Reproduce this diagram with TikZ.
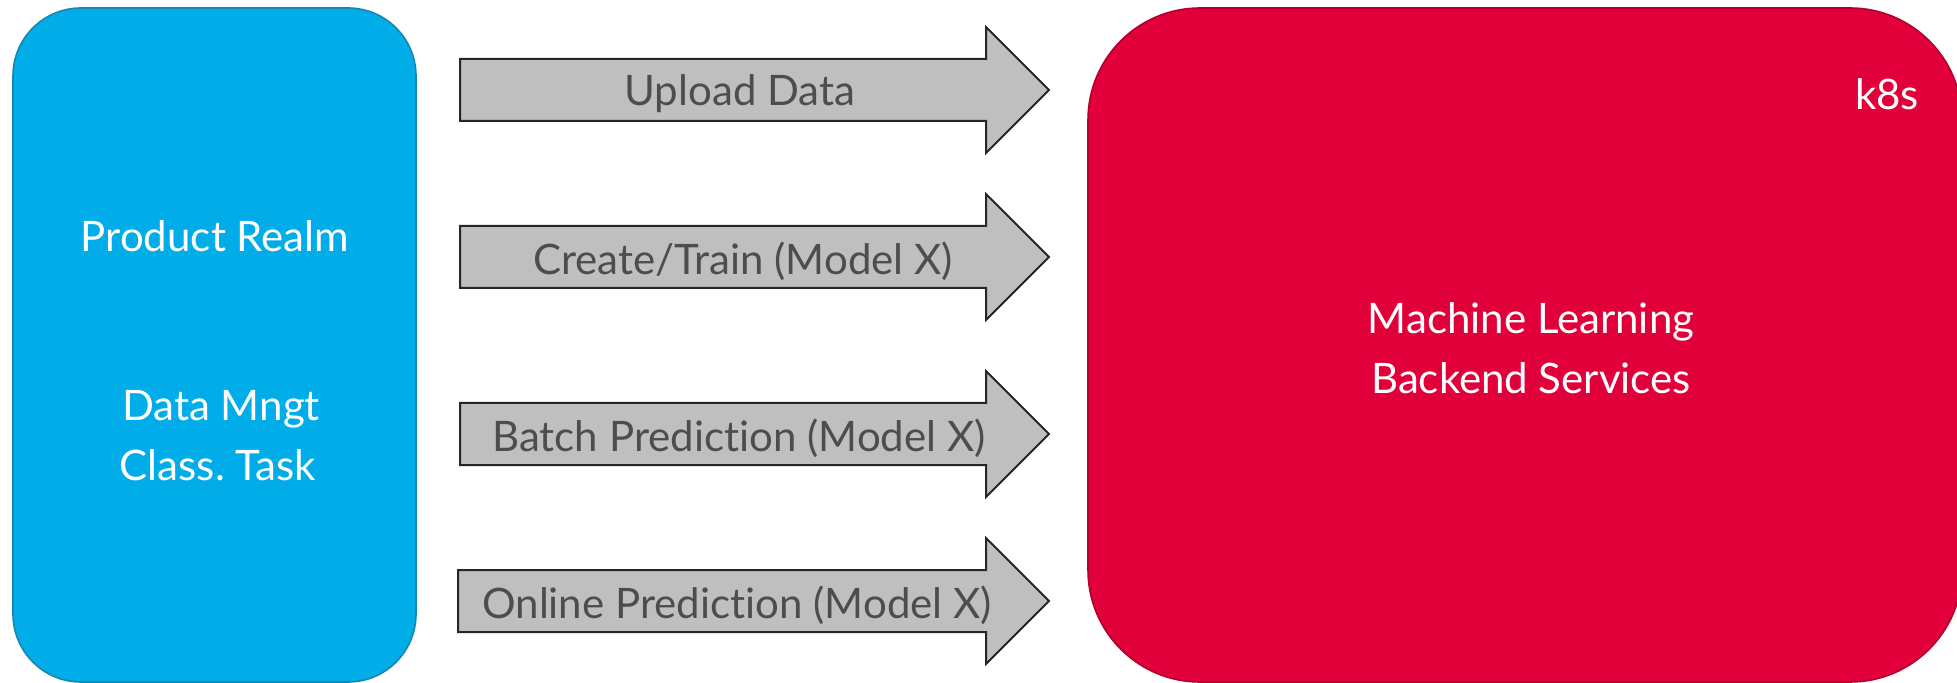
\documentclass[tikz,border=0pt]{standalone}
\usepackage{fontspec}
\setmainfont[Ligatures=NoCommon]{Lato}
\frenchspacing
\definecolor{realmblue}{HTML}{00ADE8}
\definecolor{realmedge}{HTML}{1787B2}
\definecolor{mlred}{HTML}{E2003A}
\definecolor{mledge}{HTML}{B3002E}
\definecolor{arrowfill}{HTML}{BFBFBF}
\definecolor{arrowedge}{HTML}{262626}
\definecolor{arrowtext}{HTML}{4D4D4D}
\tikzset{
  boxlabel/.style={text=white, font=\fontsize{21}{25}\selectfont, inner sep=0pt, align=center},
  arrowlabel/.style={text=arrowtext, font=\fontsize{21}{25}\selectfont, inner sep=0pt},
  fatarrow/.style={fill=arrowfill, draw=arrowedge, line width=1pt, line join=miter},
}
% block arrow: shaft from x=#2 to 986, head tip at 1049, centred on y=#3
\newcommand{\blockarrow}[3]{%
  \coordinate (#1) at (#2,#3);
  \draw[fatarrow] (#2,#3-31) -- (986,#3-31) -- (986,#3-63) -- (1049,#3)
    -- (986,#3+63) -- (986,#3+31) -- (#2,#3+31) -- cycle;}
\begin{document}
\begin{tikzpicture}[x=0.5pt, y=-0.5pt]
  \useasboundingbox (0,0) rectangle (1957,683);
  \fill[white] (0,0) rectangle (1957,683);

  % left block
  \draw[fill=realmblue, draw=realmedge, line width=0.8pt, rounded corners=34pt]
    (13,8) rectangle (416,682);
  \node[boxlabel] (realm) at (215,236) {Product Realm};
  \node[boxlabel] (mngt) at (221,409) {Data Mngt};
  \node[boxlabel] (task) at (218,465) {Class. Task};

  % right block
  \draw[fill=mlred, draw=mledge, line width=0.8pt, rounded corners=56pt]
    (1088,8) rectangle (1962,682);
  \node[boxlabel] (k8s) at (1887,94) {k8s};
  \node[boxlabel] (ml1) at (1531,322) {Machine Learning};
  \node[boxlabel] (ml2) at (1531,378) {Backend Services};

  % request arrows
  \blockarrow{a1}{460}{90}
  \node[arrowlabel] (upload) at (740,94) {Upload Data};
  \blockarrow{a2}{460}{257}
  \node[arrowlabel] (train) at (743,261) {Create/Train (Model X)};
  \blockarrow{a3}{460}{434}
  \node[arrowlabel] (batch) at (739,438) {Batch Prediction (Model X)};
  \blockarrow{a4}{458}{601}
  \node[arrowlabel] (online) at (737,605) {Online Prediction (Model X)};
\end{tikzpicture}
\end{document}
